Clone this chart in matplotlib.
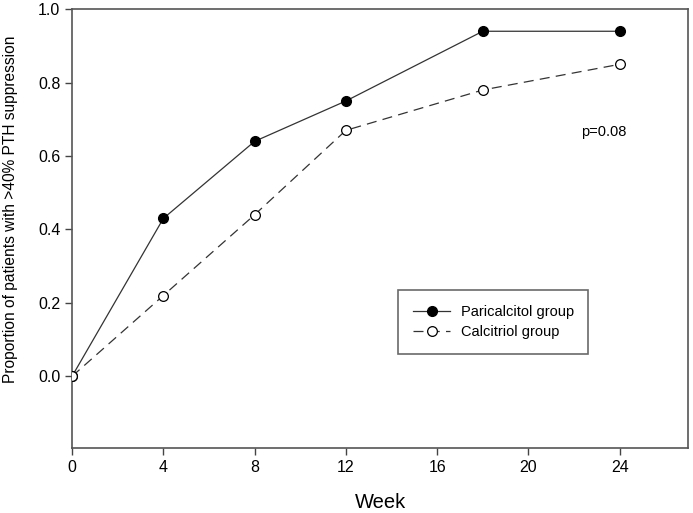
import matplotlib
matplotlib.use("Agg")
from matplotlib import pyplot as plt

plt.rcParams['font.family'] = ['Liberation Sans', 'DejaVu Sans']

# data
weeks = [0, 4, 8, 12, 18, 24]
paricalcitol = [0.0, 0.43, 0.64, 0.75, 0.94, 0.94]
calcitriol = [0.0, 0.22, 0.44, 0.67, 0.78, 0.85]
xticks = [0, 4, 8, 12, 16, 20, 24]
yticks = [0.0, 0.2, 0.4, 0.6, 0.8, 1.0]

fig = plt.figure(figsize=(6.93, 5.13), dpi=100)
ax = fig.add_axes([0.104, 0.127, 0.889, 0.855])

ax.plot(weeks, paricalcitol, color='#333333', lw=0.9, marker='o', ms=7,
        mfc='black', mec='black', label='Paricalcitol group', zorder=3)
ax.plot(weeks, calcitriol, color='#333333', lw=0.9, ls=(0, (8, 5)), marker='o', ms=7,
        mfc='white', mec='black', mew=0.9, label='Calcitriol group', zorder=3)

ax.set_xlim(0, 27)
ax.set_ylim(-0.195, 1.0)
ax.set_xticks(xticks)
ax.set_yticks(yticks)
ax.set_yticklabels(['%.1f' % v for v in yticks])
ax.tick_params(direction='out', labelsize=11.5, length=5, width=1, color='#444444')
for s in ax.spines.values():
    s.set_color('#555555')
    s.set_linewidth(1.2)

ax.set_xlabel('Week', fontsize=14.5, va='center')
ax.xaxis.set_label_coords(0.5, -0.125)
ax.set_ylabel('Proportion of patients with >40% PTH suppression', fontsize=11.2, va='center')
ax.yaxis.set_label_coords(-0.1, 0.543)

ax.text(23.3, 0.665, 'p=0.08', fontsize=10.5, ha='center', va='center')

leg = ax.legend(loc='lower left', bbox_to_anchor=(0.529, 0.214), borderaxespad=0,
                fontsize=10.5, frameon=True, fancybox=False, edgecolor='#444444',
                handlelength=2.6, handletextpad=0.7, borderpad=1.0, labelspacing=0.45)
leg.get_frame().set_linewidth(1.2)

fig.savefig('out.png', dpi=100)
